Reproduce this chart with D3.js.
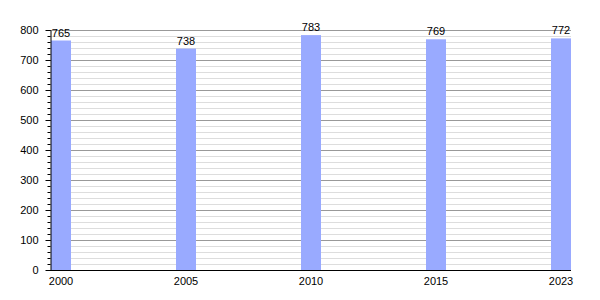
<!DOCTYPE html>
<html><head><meta charset="utf-8">
<script src="https://cdn.jsdelivr.net/npm/d3@7"></script>
<style>body{margin:0;background:#fff}svg{display:block}text{font-family:"Liberation Sans",Arial,sans-serif;font-size:11px;fill:#000}</style>
</head><body><svg id="c" width="600" height="300"></svg>
<script>
const years = ["2000","2005","2010","2015","2023"];
const values = [765,738,783,769,772];
const yMajorTicks = [0,100,200,300,400,500,600,700,800];

const svg = d3.select("#c");
const x = d3.scaleBand().domain(years).range([51,571]).paddingInner(0.84).paddingOuter(0);
const y = d3.scaleLinear().domain([0,800]).range([270,30]);
const minor = d3.range(0,801,20);

svg.append("g").selectAll("line").data(minor.filter(v=>v%100!==0)).join("line")
  .attr("x1",50).attr("x2",571).attr("y1",d=>Math.round(y(d))+0.5).attr("y2",d=>Math.round(y(d))+0.5)
  .attr("stroke","#dddddd").attr("stroke-width",1);
svg.append("g").selectAll("line").data(yMajorTicks.filter(v=>v>0)).join("line")
  .attr("x1",50).attr("x2",571).attr("y1",d=>Math.round(y(d))+0.5).attr("y2",d=>Math.round(y(d))+0.5)
  .attr("stroke","#999999").attr("stroke-width",1);

svg.append("g").selectAll("rect").data(values).join("rect")
  .attr("x",(d,i)=>x(years[i])).attr("width",x.bandwidth())
  .attr("y",d=>y(d)).attr("height",d=>y(0)-y(d)).attr("fill","#99aaff");

svg.append("g").selectAll("text").data(values).join("text")
  .attr("x",(d,i)=>x(years[i])+x.bandwidth()/2).attr("y",d=>y(d)-4)
  .attr("text-anchor","middle").text(d=>d);

// minor ticks
svg.append("g").attr("transform","translate(50.5,0)").call(
  d3.axisLeft(y).tickValues(minor).tickSize(3).tickFormat("")
).call(g=>g.select(".domain").remove());
const ya = svg.append("g").attr("transform","translate(50.5,0)").call(
  d3.axisLeft(y).tickValues(yMajorTicks).tickSize(5).tickPadding(7).tickSizeOuter(0)
);
ya.selectAll("text").style("font-size","11px").style("font-family","'Liberation Sans',Arial,sans-serif");
ya.selectAll("line").attr("transform","translate(0,0)");
svg.selectAll(".tick line").attr("transform",function(){return "translate(0,0)";});

const xa = svg.append("g").attr("transform","translate(0,270.5)").call(
  d3.axisBottom(x).tickSize(0).tickPadding(7).tickSizeOuter(0)
);
xa.select(".domain").attr("d","M50,0H571");
xa.selectAll("text").style("font-size","11px").style("font-family","'Liberation Sans',Arial,sans-serif");
</script></body></html>
